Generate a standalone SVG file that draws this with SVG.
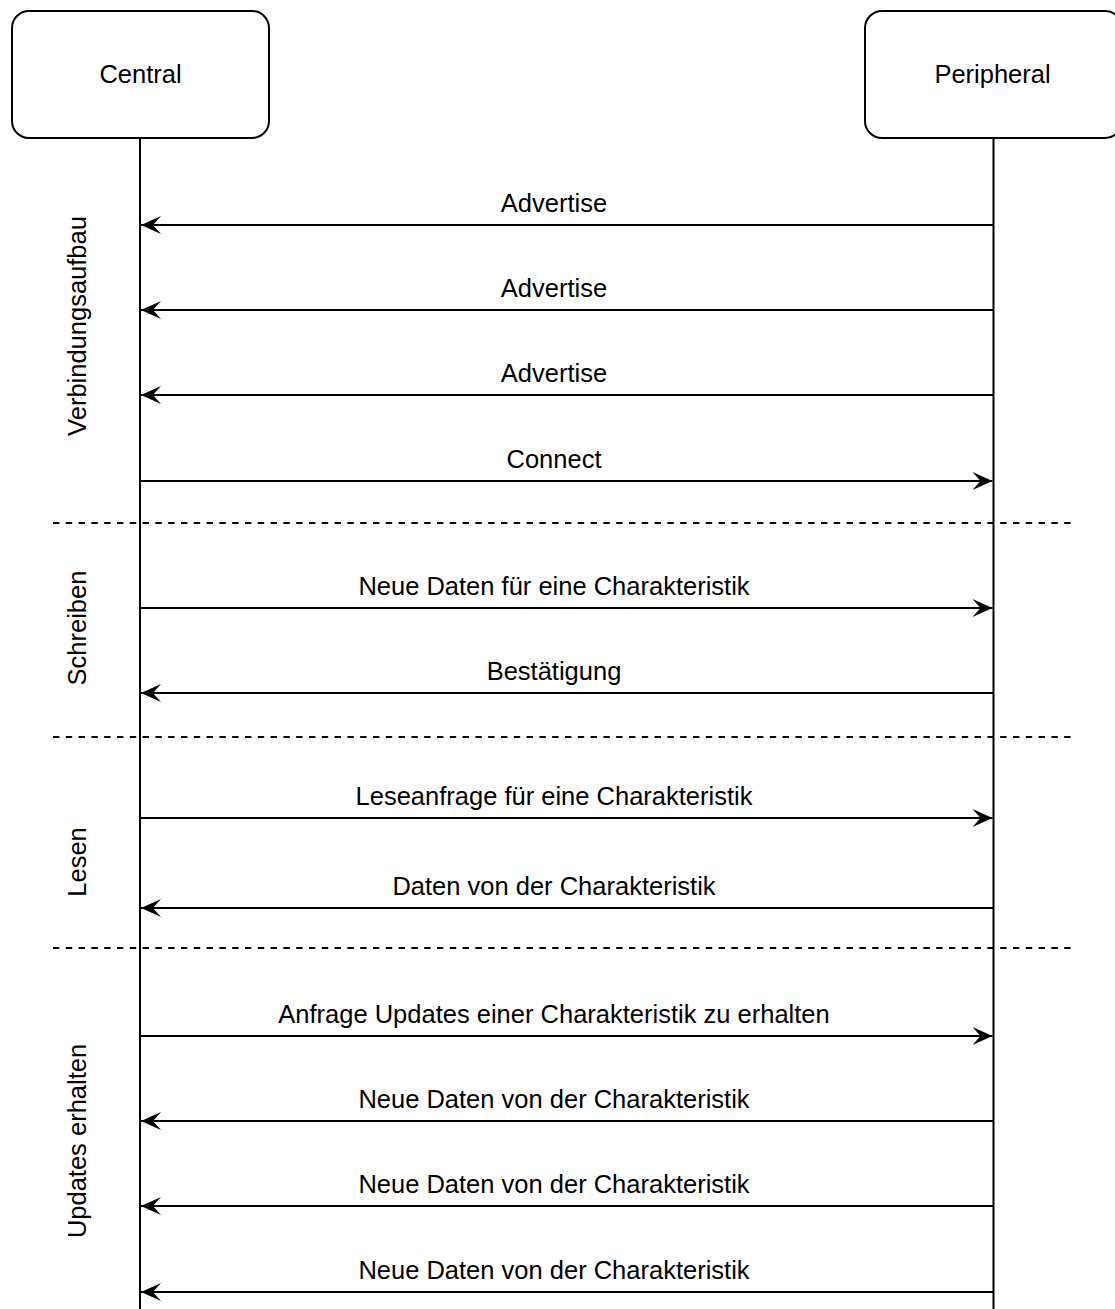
<svg xmlns="http://www.w3.org/2000/svg" width="1115" height="1309" viewBox="0 0 1115 1309">
<style>
  text { font-family: "Liberation Sans", Arial, Helvetica, sans-serif; font-size: 25.5px; fill: #000; }
  .c { text-anchor: middle; }
  .box { fill: #fff; stroke: #000; stroke-width: 2; }
  .life { stroke: #000; stroke-width: 2; fill: none; }
  .msg { stroke: #000; stroke-width: 2; fill: none; marker-end: url(#arr); }
  .sep { stroke: #000; stroke-width: 2; stroke-dasharray: 6.4 6.4; fill: none; }
</style>
<defs>
  <marker id="arr" markerUnits="userSpaceOnUse" markerWidth="22" markerHeight="20" viewBox="-21 -10 22 20" refX="0" refY="0" orient="auto">
    <path d="M0,0 L-20,-9 L-12,0 L-20,9 Z" fill="#000" stroke="none"/>
  </marker>
</defs>
<rect width="1115" height="1309" fill="#fff"/>

<g id="lifelines">
  <line class="life" x1="140" y1="138" x2="140" y2="1309"/>
  <line class="life" x1="993.5" y1="138" x2="993.5" y2="1309"/>
</g>

<g id="node-central">
  <rect class="box" x="12" y="11" width="257" height="127" rx="17" ry="17"/>
  <text class="c" x="140.5" y="83">Central</text>
</g>
<g id="node-peripheral">
  <rect class="box" x="865" y="11" width="257" height="127" rx="17" ry="17"/>
  <text class="c" x="992.5" y="83">Peripheral</text>
</g>

<g id="separators">
  <line class="sep" x1="53" y1="523" x2="1074" y2="523"/>
  <line class="sep" x1="53" y1="737" x2="1074" y2="737"/>
  <line class="sep" x1="53" y1="948" x2="1074" y2="948"/>
</g>

<g id="phase-labels">
  <text class="c" transform="translate(86,326) rotate(-90)">Verbindungsaufbau</text>
  <text class="c" transform="translate(86,628) rotate(-90)">Schreiben</text>
  <text class="c" transform="translate(86,862) rotate(-90)">Lesen</text>
  <text class="c" transform="translate(86,1141) rotate(-90)">Updates erhalten</text>
</g>

<g id="connectors">
  <line class="msg" x1="993.5" y1="225" x2="141" y2="225"/>
  <line class="msg" x1="993.5" y1="310" x2="141" y2="310"/>
  <line class="msg" x1="993.5" y1="395" x2="141" y2="395"/>
  <line class="msg" x1="140" y1="481" x2="992.5" y2="481"/>
  <line class="msg" x1="140" y1="608" x2="992.5" y2="608"/>
  <line class="msg" x1="993.5" y1="693" x2="141" y2="693"/>
  <line class="msg" x1="140" y1="818" x2="992.5" y2="818"/>
  <line class="msg" x1="993.5" y1="908" x2="141" y2="908"/>
  <line class="msg" x1="140" y1="1036" x2="992.5" y2="1036"/>
  <line class="msg" x1="993.5" y1="1121" x2="141" y2="1121"/>
  <line class="msg" x1="993.5" y1="1206" x2="141" y2="1206"/>
  <line class="msg" x1="993.5" y1="1292" x2="141" y2="1292"/>
</g>

<g id="connector-labels">
  <text class="c" x="554" y="212">Advertise</text>
  <text class="c" x="554" y="297">Advertise</text>
  <text class="c" x="554" y="382">Advertise</text>
  <text class="c" x="554" y="468">Connect</text>
  <text class="c" x="554" y="595">Neue Daten für eine Charakteristik</text>
  <text class="c" x="554" y="680">Bestätigung</text>
  <text class="c" x="554" y="805">Leseanfrage für eine Charakteristik</text>
  <text class="c" x="554" y="895">Daten von der Charakteristik</text>
  <text class="c" x="554" y="1023">Anfrage Updates einer Charakteristik zu erhalten</text>
  <text class="c" x="554" y="1108">Neue Daten von der Charakteristik</text>
  <text class="c" x="554" y="1193">Neue Daten von der Charakteristik</text>
  <text class="c" x="554" y="1279">Neue Daten von der Charakteristik</text>
</g>
</svg>
